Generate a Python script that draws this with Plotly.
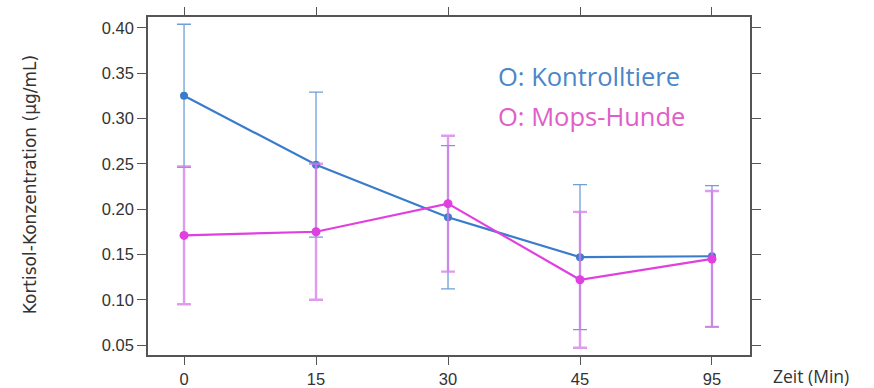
import plotly.graph_objects as go

# Time points (minutes) and cortisol means / standard deviations
zeit_labels = ["0", "15", "30", "45", "95"]
kontroll_mean = [0.325, 0.249, 0.191, 0.147, 0.148]
kontroll_sd = [0.079, 0.080, 0.079, 0.080, 0.078]
mops_mean = [0.171, 0.175, 0.206, 0.122, 0.145]
mops_sd = [0.076, 0.075, 0.075, 0.075, 0.075]
y_ticks = [0.05, 0.10, 0.15, 0.20, 0.25, 0.30, 0.35, 0.40]

xpos = list(range(len(zeit_labels)))

fig = go.Figure()

fig.add_trace(go.Scatter(
    x=xpos, y=kontroll_mean,
    mode="lines+markers",
    line=dict(color="#3a7ccc", width=2.2),
    marker=dict(color="#3a7ccc", size=8),
    error_y=dict(type="data", array=kontroll_sd, visible=True,
                 color="#6f9fd6", thickness=1.3, width=7),
    name="Kontrolltiere", showlegend=False,
))

fig.add_trace(go.Scatter(
    x=xpos, y=mops_mean,
    mode="lines+markers",
    line=dict(color="#e040e0", width=2.2),
    marker=dict(color="#e040e0", size=9),
    error_y=dict(type="data", array=mops_sd, visible=True,
                 color="rgba(214,120,232,0.75)", thickness=2.4, width=7),
    name="Mops-Hunde", showlegend=False,
))

axis_font = dict(family="Liberation Sans, Arial, sans-serif", size=16.5, color="#333333")

fig.update_xaxes(
    range=[-0.273, 4.288],
    tickmode="array", tickvals=xpos, ticktext=zeit_labels,
    ticks="outside", ticklen=8, tickwidth=1.2, tickcolor="#555555",
    showline=True, linecolor="#555555", linewidth=1.5, mirror="ticks",
    showgrid=False, zeroline=False, tickfont=axis_font, automargin=False,
)
fig.update_yaxes(
    range=[0.039, 0.412],
    tickmode="array", tickvals=y_ticks,
    ticktext=[f"{v:.2f}" for v in y_ticks],
    ticks="outside", ticklen=9, tickwidth=1.2, tickcolor="#555555",
    showline=True, linecolor="#555555", linewidth=1.5, mirror="ticks",
    showgrid=False, zeroline=False, tickfont=axis_font, automargin=False,
)

fig.add_annotation(
    x=-0.196, y=0.505, xref="paper", yref="paper", xanchor="center", yanchor="middle",
    text="Kortisol-Konzentration (µg/mL)", textangle=-90, showarrow=False,
    font=dict(family="DejaVu Sans, sans-serif", size=17, color="#333333"),
)
fig.add_annotation(
    x=1.035, y=-0.062, xref="paper", yref="paper", xanchor="left", yanchor="middle",
    text="Zeit (Min)", showarrow=False,
    font=dict(family="Open Sans, sans-serif", size=17.5, color="#333333"),
)
fig.add_annotation(
    x=0.578, y=0.826, xref="paper", yref="paper", xanchor="left", yanchor="middle",
    text="O: Kontrolltiere", showarrow=False,
    font=dict(family="Open Sans, sans-serif", size=25.5, color="#4a86c8"),
)
fig.add_annotation(
    x=0.578, y=0.708, xref="paper", yref="paper", xanchor="left", yanchor="middle",
    text="O: Mops-Hunde", showarrow=False,
    font=dict(family="Open Sans, sans-serif", size=25.5, color="#e05ec8"),
)

fig.update_layout(
    width=874, height=388,
    margin=dict(l=148, r=124, t=17, b=33),
    paper_bgcolor="white", plot_bgcolor="white",
)

fig.write_html("out.html")
